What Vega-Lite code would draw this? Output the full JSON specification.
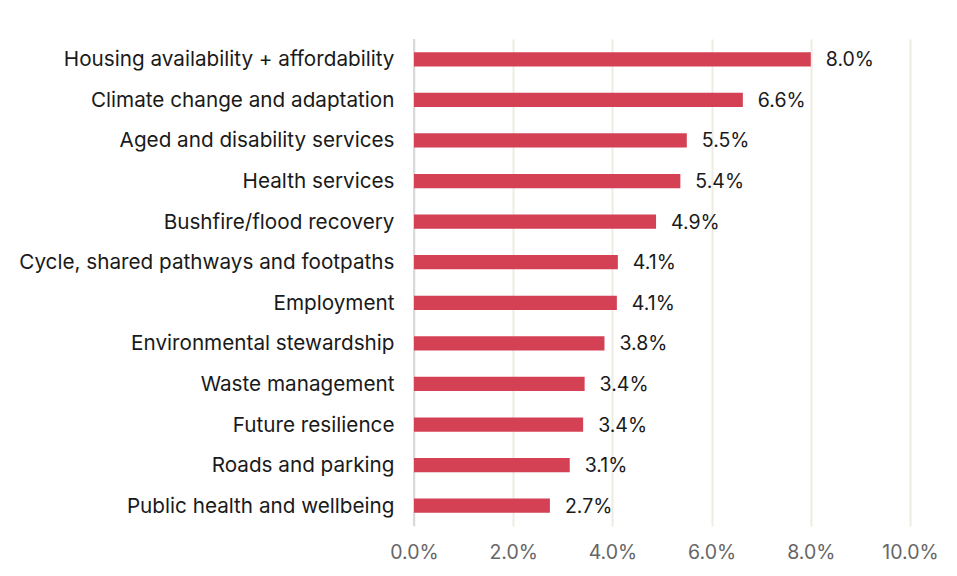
{
  "$schema": "https://vega.github.io/schema/vega-lite/v6.json",
  "width": 496,
  "height": 487,
  "autosize": {"type": "none"},
  "padding": {"left": 414, "top": 39, "right": 47, "bottom": 50},
  "background": "white",
  "config": {"view": {"stroke": null}, "font": "Inter"},
  "data": {"values": [
    {"category": "Housing availability + affordability", "value": 8.0},
    {"category": "Climate change and adaptation", "value": 6.63},
    {"category": "Aged and disability services", "value": 5.5},
    {"category": "Health services", "value": 5.37},
    {"category": "Bushfire/flood recovery", "value": 4.88},
    {"category": "Cycle, shared pathways and footpaths", "value": 4.11},
    {"category": "Employment", "value": 4.09},
    {"category": "Environmental stewardship", "value": 3.84},
    {"category": "Waste management", "value": 3.44},
    {"category": "Future resilience", "value": 3.41},
    {"category": "Roads and parking", "value": 3.14},
    {"category": "Public health and wellbeing", "value": 2.74}
  ]},
  "encoding": {
    "y": {"field": "category", "type": "nominal", "sort": null,
      "scale": {"paddingInner": 0.65, "paddingOuter": 0.325},
      "axis": {"title": null, "domain": false, "ticks": false, "labelFontSize": 20.7, "labelColor": "#1a1a1a", "labelPadding": 20, "labelLimit": 420, "labelOffset": 1, "font": "Inter"}},
    "x": {"field": "value", "type": "quantitative",
      "scale": {"domain": [0, 10], "nice": false},
      "axis": {"title": null, "values": [0, 2, 4, 6, 8, 10], "labelExpr": "format(datum.value, '.1f') + '%'", "labelFontSize": 19.5, "labelColor": "#666666", "labelPadding": 17, "domain": false, "ticks": false, "grid": true, "gridColor": "#eeece2", "gridWidth": 2, "labelFlush": false}}
  },
  "layer": [
    {"mark": {"type": "rule", "color": "#d9d9d9", "strokeWidth": 2}, "encoding": {"x": {"datum": 0}, "y": null}},
    {"mark": {"type": "bar", "color": "#d44054"}},
    {"mark": {"type": "text", "align": "left", "dx": 15, "dy": 1, "fontSize": 19.5, "color": "#1a1a1a",
      "text": {"expr": "format(datum.value, '.1f') + '%'"}}}
  ]
}
